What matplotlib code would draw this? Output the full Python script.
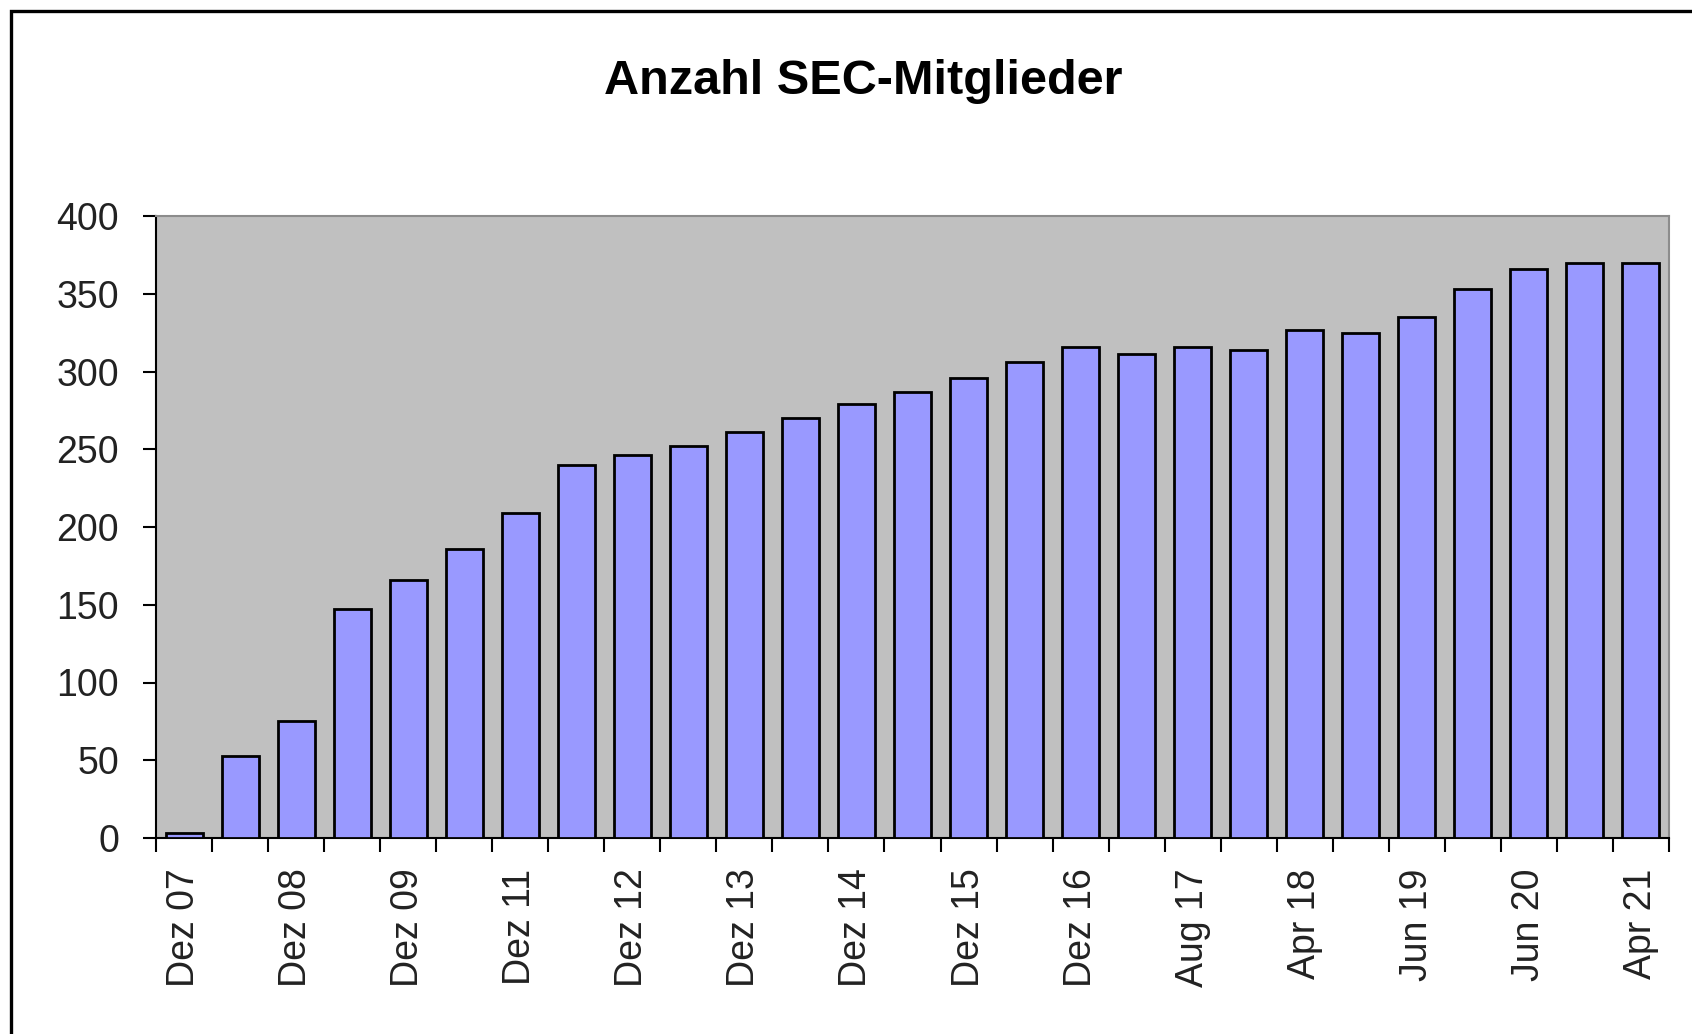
import numpy as np
import matplotlib
matplotlib.use('Agg')
import matplotlib.pyplot as plt
from matplotlib.patches import Rectangle

plt.rcParams['font.family'] = ['Liberation Sans', 'DejaVu Sans']

# Data (members per survey date)
members = [3, 53, 75, 147, 166, 186, 209, 240, 246, 252, 261, 270, 279, 287,
           296, 306, 316, 311, 316, 314, 327, 325, 335, 353, 366, 370, 370]
label_texts = ['Dez 07', 'Dez 08', 'Dez 09', 'Dez 11', 'Dez 12', 'Dez 13', 'Dez 14',
               'Dez 15', 'Dez 16', 'Aug 17', 'Apr 18', 'Jun 19', 'Jun 20', 'Apr 21']
y_ticks = [0, 50, 100, 150, 200, 250, 300, 350, 400]

W, H = 1692, 1034
fig = plt.figure(figsize=(W / 100, H / 100), dpi=100)
fig.patch.set_facecolor('white')

# Plot area position (pixels measured from reference)
left, right, top, bottom = 156, 1669, 216, 838
ax = fig.add_axes([left / W, 1 - bottom / H, (right - left) / W, (bottom - top) / H])
ax.set_facecolor('#c0c0c0')

x = np.arange(len(members))
ax.bar(x, members, width=0.66, color='#9999ff', edgecolor='black', linewidth=2.0, zorder=3)

ax.set_xlim(-0.5, len(members) - 0.5)
ax.set_ylim(0, 400)

# y axis
ax.set_yticks(y_ticks)
ax.tick_params(axis='y', direction='out', length=9.5, width=1.5, pad=17,
               labelsize=27, colors='black', labelcolor='#222222')

# x axis: tick marks at category boundaries, labels under every other bar
ax.set_xticks(x[::2])
ax.set_xticklabels(label_texts, rotation=90, fontsize=27, color='#222222')
ax.tick_params(axis='x', which='major', length=0, pad=22)
ax.set_xticks(np.arange(-0.5, len(members), 1.0), minor=True)
ax.tick_params(axis='x', which='minor', direction='out', length=10, width=1.5, colors='black')

for s in ['left', 'bottom']:
    ax.spines[s].set_color('black')
    ax.spines[s].set_linewidth(1.5)
for s in ['top', 'right']:
    ax.spines[s].set_color('#8c8c8c')
    ax.spines[s].set_linewidth(1.5)

# Title
fig.text(863 / W, 1 - 81 / H, 'Anzahl SEC-Mitglieder', ha='center', va='center',
         fontsize=35, fontweight='bold', color='black')

# Outer chart border (left and top visible)
fig.add_artist(Rectangle((11 / W, -0.1), 1.2, 1.1 - 11 / H, transform=fig.transFigure,
                         fill=False, edgecolor='black', linewidth=2.4, clip_on=False))

fig.savefig('out.png', dpi=100)
